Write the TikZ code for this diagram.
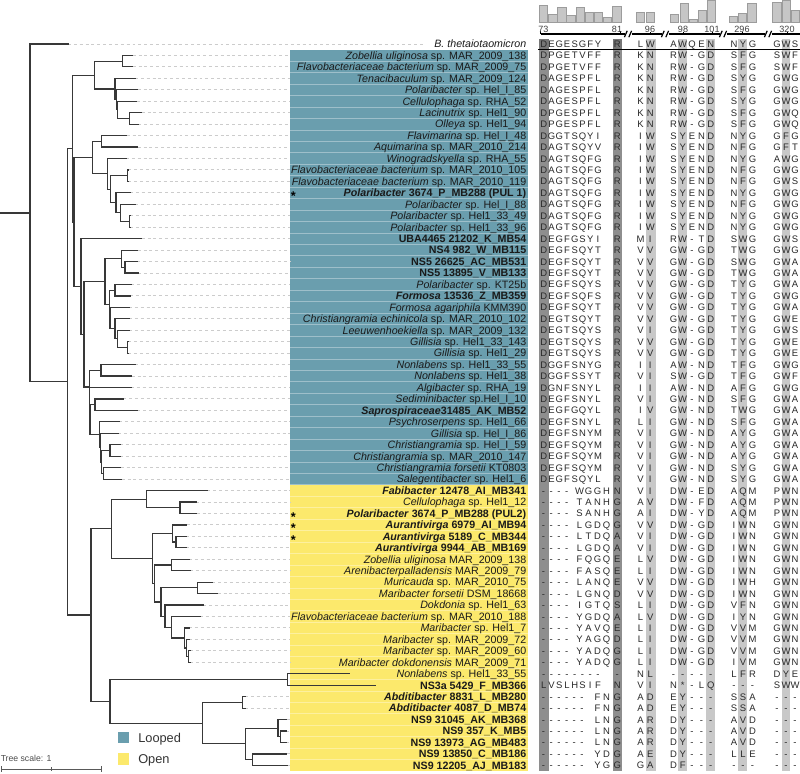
\documentclass[tikz,border=0pt]{standalone}
\usepackage{fontspec}
\setmainfont{Liberation Sans}
\usetikzlibrary{calc}
\definecolor{teal1}{HTML}{6A9EAE}
\definecolor{yel1}{HTML}{FCE96C}
\definecolor{brc}{HTML}{383838}
\definecolor{bandD}{HTML}{8E8E8E}
\definecolor{bandH}{HTML}{767676}
\definecolor{bandL}{HTML}{C8C8C8}
\definecolor{leadc}{HTML}{CCCCCC}
\definecolor{barf}{HTML}{C6C6C6}
\definecolor{bard}{HTML}{9C9C9C}
\definecolor{txt}{HTML}{1A1A1A}
\definecolor{altx}{HTML}{2A2A2A}

\def\defcx#1#2{\expandafter\def\csname cx#1\endcsname{#2}}
\defcx{a1}{543.8}\defcx{a2}{551.55}\defcx{a3}{559.3}\defcx{a4}{567.05}
\defcx{a5}{574.8}\defcx{a6}{582.55}\defcx{a7}{590.3}\defcx{a8}{598.05}
\defcx{b1}{543.5}\defcx{b2}{551.2}\defcx{b3}{558.9}\defcx{b4}{566.6}
\defcx{b5}{579.6}\defcx{b6}{588.6}\defcx{b7}{597.6}\defcx{b8}{606.6}
\defcx{c1}{543.5}\defcx{c2}{551.2}\defcx{c3}{558.9}\defcx{c4}{566.6}
\defcx{c5}{574.3}\defcx{c6}{582.0}\defcx{c7}{597.5}\defcx{c8}{606.5}
\defcx{9}{617.3}\defcx{10}{640.5}\defcx{11}{650.3}
\defcx{12}{673.5}\defcx{13}{682.7}\defcx{14}{692}\defcx{15}{701.5}\defcx{16}{710.8}
\defcx{17}{734}\defcx{18}{743}\defcx{19}{752.5}
\defcx{20}{777}\defcx{21}{786}\defcx{22}{795}

\newcount\alc
\def\alrow#1#2#3{\def\rowi{#1}\def\rowmode{#2}\alc=0 \alloop#3\relax}
\def\alloop#1{\ifx#1\relax\else\advance\alc by 1 \alput{#1}\expandafter\alloop\fi}
\def\alput#1{\ifnum\alc<9 \edef\cx{\csname cx\rowmode\the\alc\endcsname}\else\edef\cx{\csname cx\the\alc\endcsname}\fi
  \node[al] at (\cx,{44+11.45*\rowi+3.5}) {#1};}

\newcommand\leaf[3]{\coordinate (l#1) at (#2,{44+11.45*#1});
  \draw[lead] (l#1) -- (#3,{44+11.45*#1});}
\newcommand\leafn[2]{\coordinate (l#1) at (#2,{44+11.45*#1});}
\newcommand\tnode[4]{%
  \path let \p1=(#3), \p2=(#4) in coordinate (#1) at ({#2*0.75pt},{0.5*\y1+0.5*\y2});
  \draw[br] (#3 -| #1) -- (#4 -| #1);
  \draw[br] (#3 -| #1) -- (#3);
  \draw[br] (#4 -| #1) -- (#4);
}
\newcommand\lab[2]{\node[lab] (t#1) at (526.5,{44+11.45*#1+3.8}) {#2};}

\begin{document}
\begin{tikzpicture}[x=0.75pt,y=-0.75pt,
  br/.style={draw=brc, line width=0.9pt, line cap=rect},
  lead/.style={draw=leadc, line width=0.7pt, dash pattern=on 2.2pt off 2.2pt},
  lab/.style={anchor=base east, inner sep=0pt, font=\fontsize{8}{9}\selectfont, text=txt},
  al/.style={anchor=base, inner sep=0pt, font=\fontsize{7.1}{8}\selectfont, text=altx},
  num/.style={anchor=center, inner sep=0pt, font=\fontsize{6.8}{7}\selectfont, text=black!75},
  bar/.style={fill=barf, draw=bard, line width=0.4pt},
  star/.style={anchor=center, inner sep=0pt, font=\fontsize{9.5}{10}\selectfont\bfseries, text=black, text height=4pt, text depth=0pt},
  sq/.style={minimum size=8.7pt, inner sep=0pt, draw=none},
  leg/.style={anchor=base west, inner sep=0pt, font=\fontsize{9.6}{10}\selectfont, text=black!80},
  sc/.style={draw=black!65, line width=0.6pt}
]
\useasboundingbox (0,0) rectangle (800,774);
\fill[white] (0,0) rectangle (800,774);

% ---------- label boxes ----------
\fill[teal1] (290,49.7) rectangle (528,484.8);
\fill[yel1] (290,484.8) rectangle (528,771.1);
\foreach \i in {1,...,62}
  \draw[white, opacity=.35, line width=.5pt] (290,{44+11.45*(\i+.5)}) -- (528,{44+11.45*(\i+.5)});

% ---------- alignment bands ----------
\fill[bandD] (539.3,39) rectangle (549.3,771.1);
\fill[bandD] (613.3,39) rectangle (621.7,771.1);
\foreach \a/\b in {646/655.5, 678.3/686.7, 706/714.5, 738.3/747.3, 781.7/790.3}
  \fill[bandL] (\a,39) rectangle (\b,771.1);
\fill[bandH] (539.3,39) rectangle (549.3,49.3);
\fill[bandH] (613.3,39) rectangle (621.7,49.3);
\draw[black, line width=0.8pt] (538,49.5) -- (800,49.5);

% ---------- header bars ----------
\foreach \c/\t in {543.5/5, 552.65/14, 561.8/7.3, 570.95/15, 580.1/7.3, 589.25/12.3, 598.4/12.3, 607.55/17.3, 616.7/6,
  640/12.3, 650/12.3, 674.5/14, 684.2/3.3, 693/19.3, 702.5/10, 711.5/0.7,
  733.3/16.7, 742.5/13.3, 751.8/3.3, 776.7/2.7, 786/0.4, 795.2/10}
  \draw[bar] ({\c-4.2},22.7) rectangle ({\c+4.2},\t);

% ---------- header scale ----------
\foreach \a/\b in {540.5/624.5, 631.5/661.5, 668.5/719.5, 726.5/764.5, 771.5/800}
  \draw[black, line width=0.8pt] (\a,34) -- (\b,34);
\foreach \m in {628,665,723,768} {
  \draw[black, line width=0.9pt] (\m-3.6,37.2) -- (\m-0.8,30.8);
  \draw[black, line width=0.9pt] (\m+0.8,37.2) -- (\m+3.6,30.8);
}
\draw[black, line width=0.6pt] (540.8,31) -- (540.8,34);
\draw[black, line width=0.6pt] (620.5,31) -- (620.5,34);
\foreach \x in {650,683,712,742,787}
  \draw[black, line width=0.6pt] (\x,32) -- (\x,34);
\node[num] (h73) at (543.3,29) {73};
\node[num] (h81) at (617,29) {81};
\node[num] (h96) at (650,29) {96};
\node[num] (h98) at (683,29) {98};
\node[num] (h101) at (712,29) {101};
\node[num] (h296) at (742,29) {296};
\node[num] (h320) at (787,29) {320};

% ---------- leaves ----------
\leaf{0}{68}{425}
\leaf{1}{132.7}{290}\leaf{2}{132.7}{290}\leaf{3}{135}{290}\leaf{4}{137.7}{290}
\leaf{5}{136.7}{290}\leaf{6}{141.7}{290}\leaf{7}{138.3}{290}\leaf{8}{126.7}{290}
\leaf{9}{137.7}{290}\leaf{10}{126}{290}\leaf{11}{128.5}{290}\leaf{12}{128.5}{290}
\leaf{13}{130}{290}\leaf{14}{135}{290}\leaf{15}{130}{290}\leaf{16}{130}{290}
\leaf{17}{141.7}{290}\leaf{18}{137.7}{290}\leaf{19}{137.3}{290}\leaf{20}{138.3}{290}
\leaf{21}{131}{290}\leaf{22}{130}{290}\leaf{23}{129}{290}\leaf{24}{129}{290}
\leaf{25}{129}{290}\leaf{26}{128.5}{290}\leaf{27}{128.5}{290}\leaf{28}{135}{290}
\leaf{29}{131.7}{290}\leaf{30}{131}{290}\leaf{31}{123.3}{290}\leaf{32}{137.5}{290}
\leaf{33}{119.3}{290}\leaf{34}{118.3}{290}\leaf{35}{120}{290}\leaf{36}{120}{290}
\leaf{37}{120.7}{290}\leaf{38}{121.7}{290}
\leaf{39}{207.3}{290}\leaf{40}{196}{290}\leaf{41}{196.7}{290}\leaf{42}{186.7}{290}
\leaf{43}{186}{290}\leaf{44}{186}{290}\leaf{45}{189}{290}\leaf{46}{190}{290}
\leaf{47}{212.3}{290}\leaf{48}{217.7}{290}\leaf{49}{203.3}{290}\leaf{50}{200}{290}
\leaf{51}{189}{290}\leaf{52}{189.3}{290}\leaf{53}{190}{290}\leaf{54}{190}{290}
\leafn{55}{349.3}\leafn{56}{375}
\leaf{57}{245}{290}\leaf{58}{245}{290}\leaf{59}{286.7}{290}\leaf{60}{286}{290}
\leaf{61}{286}{290}\leaf{62}{286.7}{290}\leaf{63}{287}{290}

% ---------- tree (looped) ----------
\tnode{nD}{122.7}{l1}{l2}
\tnode{nE4}{129.3}{l6}{l7}
\tnode{nE3}{117.7}{l5}{nE4}
\tnode{nE2}{116.7}{l4}{nE3}
\tnode{nE}{115}{l3}{nE2}
\tnode{nC}{94.3}{nD}{nE}
\tnode{nG}{101.7}{l8}{l9}
\tnode{nI1}{127.7}{l11}{l12}
\tnode{nI4}{129.3}{l15}{l16}
\tnode{nI3}{120.7}{l14}{nI4}
\tnode{nI2}{116}{l13}{nI3}
\tnode{nI}{110.7}{nI1}{nI2}
\tnode{nH}{107.3}{l10}{nI}
\tnode{nF}{92.3}{nG}{nH}
\tnode{nL1b}{125}{l19}{l20}
\tnode{nL1}{121.7}{l18}{nL1b}
\tnode{nN1}{115}{l21}{l22}
\tnode{nN4}{127.7}{l26}{l27}
\tnode{nN3b}{117.3}{l25}{nN4}
\tnode{nN3}{115}{l24}{nN3b}
\tnode{nN2}{110}{l23}{nN3}
\tnode{nL2}{109.3}{nN1}{nN2}
\tnode{nL}{105}{nL1}{nL2}
\tnode{nP}{101}{l28}{l29}
\tnode{nR}{95}{l31}{l32}
\tnode{nQ4}{110}{l35}{l36}
\tnode{nQ3}{103.3}{l37}{l38}
\tnode{nQ2}{101.5}{nQ4}{nQ3}
\tnode{nQb}{100.3}{l34}{nQ2}
\tnode{nQ}{99.3}{l33}{nQb}
\tnode{nMc}{90}{nR}{nQ}
\tnode{nMb}{89.7}{l30}{nMc}
\tnode{nM}{89.3}{nP}{nMb}
\tnode{nK}{84}{nL}{nM}
\tnode{nJ}{81}{l17}{nK}
\tnode{nB2}{74}{nF}{nJ}
\tnode{nB}{72.7}{nC}{nB2}
% ---------- tree (open) ----------
\tnode{nO1a2}{180}{l40}{l41}
\tnode{nO1a}{146.7}{l39}{nO1a2}
\tnode{nX1b}{176}{l43}{l44}
\tnode{nX1}{172.7}{l42}{nX1b}
\tnode{nX3}{171.7}{l45}{l46}
\tnode{nX5}{197.3}{l47}{l48}
\tnode{nX10}{188.3}{l53}{l54}
\tnode{nX9}{186.7}{l52}{nX10}
\tnode{nX8}{184.3}{l51}{nX9}
\tnode{nX7}{171.7}{l50}{nX8}
\tnode{nX6}{165}{l49}{nX7}
\tnode{nX4}{161}{nX5}{nX6}
\tnode{nX2}{154.3}{nX3}{nX4}
\tnode{nO1b}{152.3}{nX1}{nX2}
\tnode{nO1}{111.7}{nO1a}{nO1b}
\tnode{nS}{287.3}{l55}{l56}
\tnode{nT1}{242.5}{l57}{l58}
\tnode{nT3b}{280.5}{l60}{l61}
\tnode{nT3}{278}{l59}{nT3b}
\tnode{nT4}{252.3}{l62}{l63}
\tnode{nT2}{245.7}{nT3}{nT4}
\tnode{nT}{202.3}{nT1}{nT2}
\tnode{nO2}{110}{nS}{nT}
\tnode{nO}{91}{nO1}{nO2}
\tnode{nA}{67.7}{nB}{nO}
\tnode{nRoot}{30}{l0}{nA}
\coordinate (rs) at (0,0);
\draw[br] (rs |- nRoot) -- (nRoot);

% ---------- labels ----------
\lab{0}{\textit{B. thetaiotaomicron}}
\lab{1}{\textit{Zobellia uliginosa} sp. MAR\_2009\_138}
\lab{2}{\textit{Flavobacteriaceae bacterium} sp. MAR\_2009\_75}
\lab{3}{\textit{Tenacibaculum} sp. MAR\_2009\_124}
\lab{4}{\textit{Polaribacter} sp. Hel\_I\_85}
\lab{5}{\textit{Cellulophaga} sp. RHA\_52}
\lab{6}{\textit{Lacinutrix} sp. Hel1\_90}
\lab{7}{\textit{Olleya} sp. Hel1\_94}
\lab{8}{\textit{Flavimarina} sp. Hel\_I\_48}
\lab{9}{\textit{Aquimarina} sp. MAR\_2010\_214}
\lab{10}{\textit{Winogradskyella} sp. RHA\_55}
\lab{11}{\textit{Flavobacteriaceae bacterium} sp. MAR\_2010\_105}
\lab{12}{\textit{Flavobacteriaceae bacterium} sp. MAR\_2010\_119}
\lab{13}{\textbf{\textit{Polaribacter} 3674\_P\_MB288 (PUL 1)}}
\lab{14}{\textit{Polaribacter} sp. Hel\_I\_88}
\lab{15}{\textit{Polaribacter} sp. Hel1\_33\_49}
\lab{16}{\textit{Polaribacter} sp. Hel1\_33\_96}
\lab{17}{\textbf{UBA4465 21202\_K\_MB54}}
\lab{18}{\textbf{NS4 982\_W\_MB115}}
\lab{19}{\textbf{NS5 26625\_AC\_MB531}}
\lab{20}{\textbf{NS5 13895\_V\_MB133}}
\lab{21}{\textit{Polaribacter} sp. KT25b}
\lab{22}{\textbf{\textit{Formosa} 13536\_Z\_MB359}}
\lab{23}{\textit{Formosa agariphila} KMM390}
\lab{24}{\textit{Christiangramia echinicola} sp. MAR\_2010\_102}
\lab{25}{\textit{Leeuwenhoekiella} sp. MAR\_2009\_132}
\lab{26}{\textit{Gillisia} sp. Hel1\_33\_143}
\lab{27}{\textit{Gillisia} sp. Hel1\_29}
\lab{28}{\textit{Nonlabens} sp. Hel1\_33\_55}
\lab{29}{\textit{Nonlabens} sp. Hel1\_38}
\lab{30}{\textit{Algibacter} sp. RHA\_19}
\lab{31}{\textit{Sediminibacter} sp.Hel\_I\_10}
\lab{32}{\textbf{\textit{Saprospiraceae}31485\_AK\_MB52}}
\lab{33}{\textit{Psychroserpens} sp. Hel1\_66}
\lab{34}{\textit{Gillisia} sp. Hel\_I\_86}
\lab{35}{\textit{Christiangramia} sp. Hel\_I\_59}
\lab{36}{\textit{Christiangramia} sp. MAR\_2010\_147}
\lab{37}{\textit{Christiangramia forsetii} KT0803}
\lab{38}{\textit{Salegentibacter} sp. Hel1\_6}
\lab{39}{\textbf{\textit{Fabibacter} 12478\_AI\_MB341}}
\lab{40}{\textit{Cellulophaga} sp. Hel1\_12}
\lab{41}{\textbf{\textit{Polaribacter} 3674\_P\_MB288 (PUL2)}}
\lab{42}{\textbf{\textit{Aurantivirga} 6979\_AI\_MB94}}
\lab{43}{\textbf{\textit{Aurantivirga} 5189\_C\_MB344}}
\lab{44}{\textbf{\textit{Aurantivirga} 9944\_AB\_MB169}}
\lab{45}{\textit{Zobellia uliginosa} MAR\_2009\_138}
\lab{46}{\textit{Arenibacterpalladensis} MAR\_2009\_79}
\lab{47}{\textit{Muricauda} sp. MAR\_2010\_75}
\lab{48}{\textit{Maribacter forsetii} DSM\_18668}
\lab{49}{\textit{Dokdonia} sp. Hel1\_63}
\lab{50}{\textit{Flavobacteriaceae bacterium} sp. MAR\_2010\_188}
\lab{51}{\textit{Maribacter} sp. Hel1\_7}
\lab{52}{\textit{Maribacter} sp. MAR\_2009\_72}
\lab{53}{\textit{Maribacter} sp. MAR\_2009\_60}
\lab{54}{\textit{Maribacter dokdonensis} MAR\_2009\_71}
\lab{55}{\textit{Nonlabens} sp. Hel1\_33\_55}
\lab{56}{\textbf{NS3a 5429\_F\_MB366}}
\lab{57}{\textbf{\textit{Abditibacter} 8831\_L\_MB280}}
\lab{58}{\textbf{\textit{Abditibacter} 4087\_D\_MB74}}
\lab{59}{\textbf{NS9 31045\_AK\_MB368}}
\lab{60}{\textbf{NS9 357\_K\_MB5}}
\lab{61}{\textbf{NS9 13973\_AG\_MB483}}
\lab{62}{\textbf{NS9 13850\_C\_MB186}}
\lab{63}{\textbf{NS9 12205\_AJ\_MB183}}

\foreach \r in {13,41,42,43}
  \node[star] (s\r) at (293.3,{44+11.45*\r+5.2}) {*};

% ---------- alignment ----------
\alrow{0}{a}{DEGESGFYR LW AWQEN NYG GWS}
\alrow{1}{a}{DPGETVFFR KN RW-GD SFG SWF}
\alrow{2}{a}{DPGETVFFR KN RW-GD SFG SWF}
\alrow{3}{a}{DAGESPFLR KN RW-GD SYG GWG}
\alrow{4}{a}{DAGESPFLR KN RW-GD SFG GWG}
\alrow{5}{a}{DAGESPFLR KN RW-GD SYG GWG}
\alrow{6}{a}{DPGESPFLR KN RW-GD SFG GWQ}
\alrow{7}{a}{DPGESPFLR KN RW-GD SFG GWQ}
\alrow{8}{a}{DGGTSQYIR IW SYEND NYG GFG}
\alrow{9}{a}{DAGTSQYVR IW SYEND NFG GFT}
\alrow{10}{a}{DAGTSQFGR IW SYEND NYG AWG}
\alrow{11}{a}{DAGTSQFGR IW SYEND NFG GWG}
\alrow{12}{a}{DAGTSQFGR IW SYEND NFG GWS}
\alrow{13}{a}{DAGTSQFGR IW SYEND NYG GWG}
\alrow{14}{a}{DAGTSQFGR IW SYEND NFG GWG}
\alrow{15}{a}{DAGTSQFGR IW SYEND NYG GWG}
\alrow{16}{a}{DAGTSQFGR IW SYEND NYG GWG}
\alrow{17}{a}{DEGFGSYIR MI RW-TD SWG GWS}
\alrow{18}{a}{DEGFSQYTR VV GW-GD TWG GWG}
\alrow{19}{a}{DEGFSQYTR VV GW-GD SWG GWA}
\alrow{20}{a}{DEGFSQYTR VV GW-GD TWG GWA}
\alrow{21}{a}{DEGFSQYSR VV GW-GD TYG GWA}
\alrow{22}{a}{DEGFSQFSR VV GW-GD TYG GWG}
\alrow{23}{a}{DEGFSQYTR VV GW-GD TYG GWA}
\alrow{24}{a}{DEGTSQYTR VV GW-GD TYG GWE}
\alrow{25}{a}{DEGTSQYSR VI GW-GD TYG GWS}
\alrow{26}{a}{DEGTSQYSR VV GW-GD TYG GWE}
\alrow{27}{a}{DEGTSQYSR VV GW-GD TYG GWE}
\alrow{28}{a}{DGGFSNYGR II AW-ND TFG GWG}
\alrow{29}{a}{DGGFSSYTR VI SW-GD TFG GWF}
\alrow{30}{a}{DGNFSNYLR II AW-ND AFG GWG}
\alrow{31}{a}{DEGFSNYLR VI GW-ND SFG GWA}
\alrow{32}{a}{DEGFGQYLR IV GW-ND TWG GWA}
\alrow{33}{a}{DEGFSNYLR LI GW-ND SFG GWA}
\alrow{34}{a}{DEGFSNYMR VI GW-ND AYG GWA}
\alrow{35}{a}{DEGFSQYMR VI GW-ND AYG GWA}
\alrow{36}{a}{DEGFSQYMR VI GW-ND AYG GWA}
\alrow{37}{a}{DEGFSQYMR VI GW-ND SYG GWA}
\alrow{38}{a}{DEGFSQYLR VI GW-ND SYG GWA}
\alrow{39}{b}{----WGGHN VI DW-ED AQM PWN}
\alrow{40}{b}{----TANHG AV DW-FD AQM PWN}
\alrow{41}{b}{----SANHG AI DW-YD AQM PWN}
\alrow{42}{b}{----LGDQG VV DW-GD IWN GWN}
\alrow{43}{b}{----LTDQA VI DW-GD IWN GWN}
\alrow{44}{b}{----LGDQA VI DW-GD IWN GWN}
\alrow{45}{b}{----FQGQE LV DW-GD IWN GWN}
\alrow{46}{b}{----FASQE LI DW-GD IWN GWN}
\alrow{47}{b}{----LANQE VV DW-GD IWH GWN}
\alrow{48}{b}{----LGNQD VV DW-GD IWN GWN}
\alrow{49}{b}{----IGTQS LI DW-GD VFN GWN}
\alrow{50}{b}{----YGDQA LV DW-GD IYN GWN}
\alrow{51}{b}{----YAVQE LI DW-GD VVM GWN}
\alrow{52}{b}{----YAGQD LI DW-GD VVM GWN}
\alrow{53}{b}{----YADQG LI DW-GD VVM GWN}
\alrow{54}{b}{----YADQG LI DW-GD IVM GWN}
\alrow{55}{a}{--------- NL ----- LFR DYE}
\alrow{56}{a}{LVSLHSIFN VI N*-LQ --- SWW}
\alrow{57}{c}{------FNG AD EY--- SSA ---}
\alrow{58}{c}{------FNG AD EY--- SSA ---}
\alrow{59}{c}{------LNG AR DY--- AVD ---}
\alrow{60}{c}{------LNG AR DY--- AVD ---}
\alrow{61}{c}{------LNG AR DY--- AVD ---}
\alrow{62}{c}{------YDG AE DY--- LLE ---}
\alrow{63}{c}{------YGG GA DF--- --- ---}

% ---------- legend ----------
\node[sq, fill=teal1] (k1) at (123.5,737.5) {};
\node[sq, fill=yel1] (k2) at (123.5,758.8) {};
\node[leg] (kt1) at (138,742) {Looped};
\node[leg] (kt2) at (138,763.3) {Open};

% ---------- tree scale ----------
\node[anchor=base west, inner sep=0pt, font=\fontsize{6.5}{7}\selectfont, text=black!70] (tsc) at (0.5,761) {Tree scale: 1};
\coordinate (sc0) at (1,769);
\coordinate (sc1) at (101,769);
\draw[sc] (sc0) -- (sc1);
\draw[sc] (1,766) -- (1,772);
\draw[sc] (101,766) -- (101,772);
\draw[sc] (51,767.3) -- (51,770.7);
\end{tikzpicture}
\end{document}
